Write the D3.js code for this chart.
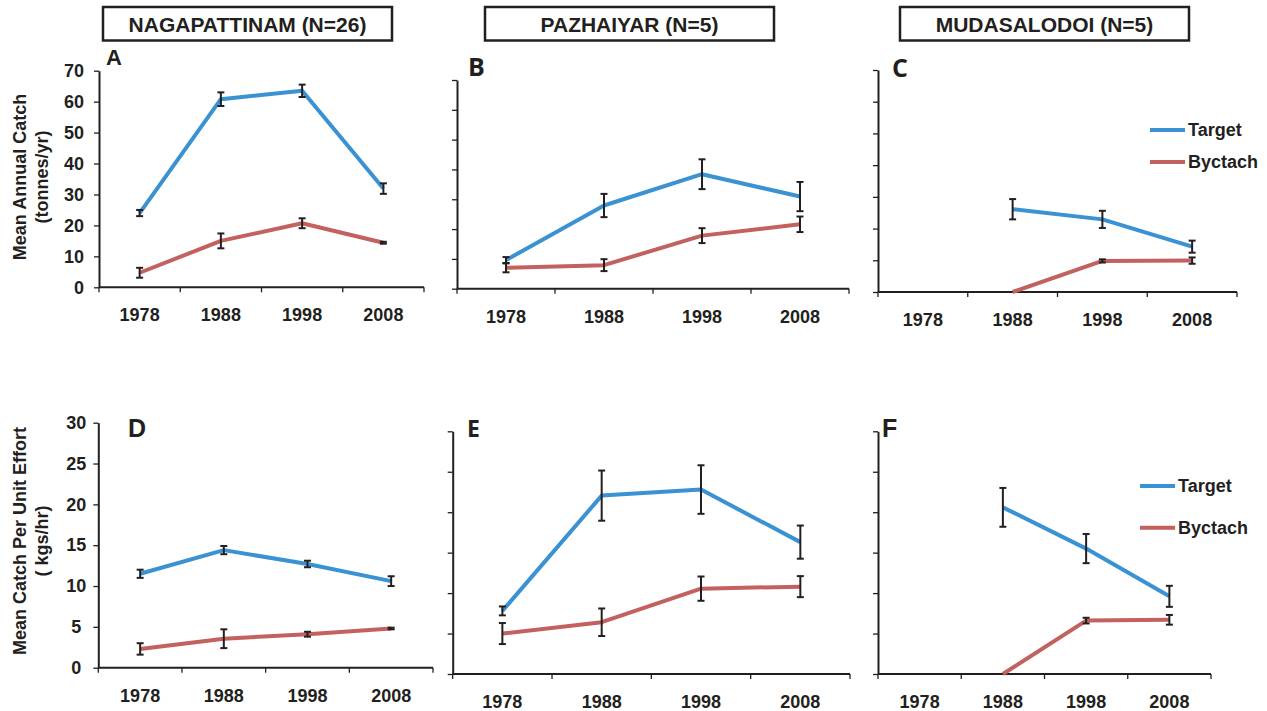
<!DOCTYPE html>
<html>
<head>
<meta charset="utf-8">
<script src="https://cdn.jsdelivr.net/npm/d3@7"></script>
<style>
  body { margin: 0; background: #fff; }
  svg { display: block; }
  text { font-family: "Liberation Sans", Arial, sans-serif; font-weight: bold; fill: #231f20; }
</style>
</head>
<body>
<svg id="viz" width="1267" height="711"></svg>
<script>
// values (null = no data for that year)
const years = ["1978", "1988", "1998", "2008"];
const sites = ["NAGAPATTINAM (N=26)", "PAZHAIYAR (N=5)", "MUDASALODOI (N=5)"];
const seriesNames = ["Target", "Byctach"];

// mean annual catch (tonnes/yr)
const nagCatchTarget = [24.0, 60.8, 63.5, 31.9];
const nagCatchTargetErr = [1.0, 2.2, 2.0, 1.7];
const nagCatchBycatch = [4.7, 15.0, 20.7, 14.4];
const nagCatchBycatchErr = [1.6, 2.4, 1.6, 0.3];
const pazCatchTarget = [9.6, 27.9, 38.4, 30.9];
const pazCatchTargetErr = [1.0, 3.9, 5.0, 4.9];
const pazCatchBycatch = [7.0, 7.9, 17.8, 21.6];
const pazCatchBycatchErr = [1.5, 2.0, 2.5, 2.6];
const mudCatchTarget = [null, 26.1, 22.9, 14.3];
const mudCatchTargetErr = [null, 3.2, 2.7, 1.9];
const mudCatchBycatch = [null, 0, 9.8, 9.9];
const mudCatchBycatchErr = [null, 0, 0.5, 1.0];

// mean catch per unit effort (kgs/hr)
const nagCpueTarget = [11.5, 14.4, 12.7, 10.6];
const nagCpueTargetErr = [0.5, 0.5, 0.4, 0.6];
const nagCpueBycatch = [2.3, 3.55, 4.1, 4.8];
const nagCpueBycatchErr = [0.7, 1.15, 0.3, 0.1];
const pazCpueTarget = [7.8, 22.05, 22.8, 16.3];
const pazCpueTargetErr = [0.55, 3.1, 3.0, 2.05];
const pazCpueBycatch = [5.0, 6.4, 10.55, 10.8];
const pazCpueBycatchErr = [1.3, 1.7, 1.5, 1.3];
const mudCpueTarget = [null, 20.6, 15.5, 9.6];
const mudCpueTargetErr = [null, 2.4, 1.8, 1.3];
const mudCpueBycatch = [null, 0, 6.6, 6.7];
const mudCpueBycatchErr = [null, 0, 0.35, 0.6];

const catchTicks = [0, 10, 20, 30, 40, 50, 60, 70];
const cpueTicks = [0, 5, 10, 15, 20, 25, 30];

const colors = ["#3a92d2", "#c2615d"];
const ink = "#231f20";
const fs = 18;

let svg = d3.select("#viz");

// panel layout
let panels = [
    {letter: "A", x0: 99, x1: 424, top: 70.7, bot: 287.3, ticks: catchTicks, labels: "right",
        series: [[nagCatchTarget, nagCatchTargetErr], [nagCatchBycatch, nagCatchBycatchErr]],
        lx: 106, ly: 65, lsize: 22, lfont: "Liberation Sans"},
    {letter: "B", x0: 457, x1: 849, top: 80, bot: 288.7, ticks: catchTicks,
        series: [[pazCatchTarget, pazCatchTargetErr], [pazCatchBycatch, pazCatchBycatchErr]],
        lx: 468, ly: 76, lsize: 25, lfont: "Open Sans"},
    {letter: "C", x0: 878, x1: 1237, top: 70, bot: 292, ticks: catchTicks,
        series: [[mudCatchTarget, mudCatchTargetErr], [mudCatchBycatch, mudCatchBycatchErr]],
        lx: 892, ly: 77, lsize: 25, lfont: "Open Sans",
        legend: {x: 1150, y: 130, gap: 32}},
    {letter: "D", x0: 98.3, x1: 433, top: 422.7, bot: 667.7, ticks: cpueTicks, labels: "middle",
        series: [[nagCpueTarget, nagCpueTargetErr], [nagCpueBycatch, nagCpueBycatchErr]],
        lx: 128, ly: 437, lsize: 25, lfont: "Liberation Sans"},
    {letter: "E", x0: 452.7, x1: 850, top: 431.3, bot: 674, ticks: cpueTicks,
        series: [[pazCpueTarget, pazCpueTargetErr], [pazCpueBycatch, pazCpueBycatchErr]],
        lx: 467, ly: 437, lsize: 23, lfont: "Open Sans"},
    {letter: "F", x0: 878, x1: 1211, top: 431.3, bot: 674, ticks: cpueTicks,
        series: [[mudCpueTarget, mudCpueTargetErr], [mudCpueBycatch, mudCpueBycatchErr]],
        lx: 882, ly: 437, lsize: 25, lfont: "Liberation Sans",
        legend: {x: 1140, y: 486, gap: 41.7}}
];

panels.forEach(function (p) {
    let g = svg.append("g");
    let x = d3.scaleBand().domain(years).range([p.x0, p.x1]);
    let y = d3.scaleLinear().domain([0, d3.max(p.ticks)]).range([p.bot, p.top]);

    // y axis
    let yAxis = g.append("g")
        .attr("transform", "translate(" + p.x0 + ",0)")
        .call(d3.axisLeft(y).tickValues(p.ticks).tickSize(5).tickSizeOuter(0)
            .tickFormat(p.labels ? d3.format("d") : ""));
    yAxis.select(".domain").attr("stroke", ink).attr("stroke-width", 2);
    yAxis.selectAll(".tick line").attr("stroke", ink).attr("stroke-width", 1.3);
    yAxis.selectAll("text")
        .attr("font-size", fs).attr("font-family", null)
        .style("fill", ink);
    if (p.labels === "right") yAxis.selectAll("text").attr("x", -15);
    if (p.labels === "middle") yAxis.selectAll("text").attr("text-anchor", "middle").attr("x", -22);

    // x axis: line, ticks at band edges, labels at band centres
    let xAxis = g.append("g").attr("transform", "translate(0," + p.bot + ")");
    xAxis.append("line")
        .attr("x1", p.x0).attr("x2", p.x1)
        .attr("stroke", ink).attr("stroke-width", 2);
    let edges = years.map(d => x(d)).concat([p.x1]);
    xAxis.selectAll(".edge").data(edges).enter().append("line")
        .attr("x1", d => d).attr("x2", d => d)
        .attr("y1", 0).attr("y2", 5)
        .attr("stroke", ink).attr("stroke-width", 1.3);
    xAxis.selectAll(".lab").data(years).enter().append("text")
        .attr("x", d => x(d) + x.bandwidth() / 2)
        .attr("y", 34)
        .attr("text-anchor", "middle")
        .attr("font-size", fs)
        .text(d => d);

    let cx = (d, i) => x(years[i]) + x.bandwidth() / 2;

    // lines
    p.series.forEach(function (s, k) {
        let line = d3.line()
            .defined(d => d != null)
            .x((d, i) => cx(d, i))
            .y(d => y(d));
        g.append("path")
            .datum(s[0])
            .attr("d", line)
            .attr("fill", "none")
            .attr("stroke", colors[k])
            .attr("stroke-width", 4)
            .attr("stroke-linejoin", "round");
    });

    // error bars
    p.series.forEach(function (s) {
        let pts = s[0].map((v, i) => ({v: v, e: s[1][i], i: i}))
            .filter(d => d.v != null && d.e);
        let eb = g.append("g").selectAll("g").data(pts).enter().append("g")
            .attr("stroke", ink).attr("stroke-width", 2);
        eb.append("line")
            .attr("x1", d => cx(d, d.i)).attr("x2", d => cx(d, d.i))
            .attr("y1", d => y(d.v + d.e)).attr("y2", d => y(d.v - d.e));
        [1, -1].forEach(function (sg) {
            eb.append("line")
                .attr("x1", d => cx(d, d.i) - 3.5).attr("x2", d => cx(d, d.i) + 3.5)
                .attr("y1", d => y(d.v + sg * d.e)).attr("y2", d => y(d.v + sg * d.e));
        });
    });

    // panel letter
    g.append("text")
        .attr("x", p.lx).attr("y", p.ly)
        .attr("font-size", p.lsize)
        .style("font-family", p.lfont)
        .text(p.letter);

    // legend
    if (p.legend) {
        let lg = g.append("g").selectAll("g").data(seriesNames).enter().append("g")
            .attr("transform", (d, i) => "translate(" + p.legend.x + "," + (p.legend.y + i * p.legend.gap) + ")");
        lg.append("line")
            .attr("x1", 0).attr("x2", 35)
            .attr("stroke", (d, i) => colors[i]).attr("stroke-width", 4);
        lg.append("text")
            .attr("x", 38).attr("y", 6)
            .attr("font-size", fs)
            .text(d => d);
    }
});

// site title boxes
let boxes = [{x: 103, w: 289}, {x: 485, w: 289}, {x: 900, w: 289}];
let tb = svg.append("g").selectAll("g").data(sites).enter().append("g")
    .attr("transform", (d, i) => "translate(" + boxes[i].x + ",7)");
tb.append("rect")
    .attr("width", (d, i) => boxes[i].w).attr("height", 33.5)
    .attr("fill", "#fff").attr("stroke", ink).attr("stroke-width", 2.5);
tb.append("text")
    .attr("x", (d, i) => boxes[i].w / 2).attr("y", 24.5)
    .attr("text-anchor", "middle")
    .attr("font-size", 21)
    .text(d => d);

// y axis titles
let yTitles = [
    {lines: ["Mean Annual Catch", "(tonnes/yr)"], cy: 177},
    {lines: ["Mean Catch Per Unit Effort", "( kgs/hr)"], cy: 541}
];
yTitles.forEach(function (t) {
    t.lines.forEach(function (s, i) {
        svg.append("text")
            .attr("transform", "translate(" + (26 + i * 22) + "," + t.cy + ") rotate(-90)")
            .attr("text-anchor", "middle")
            .attr("font-size", fs)
            .text(s);
    });
});
</script>
</body>
</html>
